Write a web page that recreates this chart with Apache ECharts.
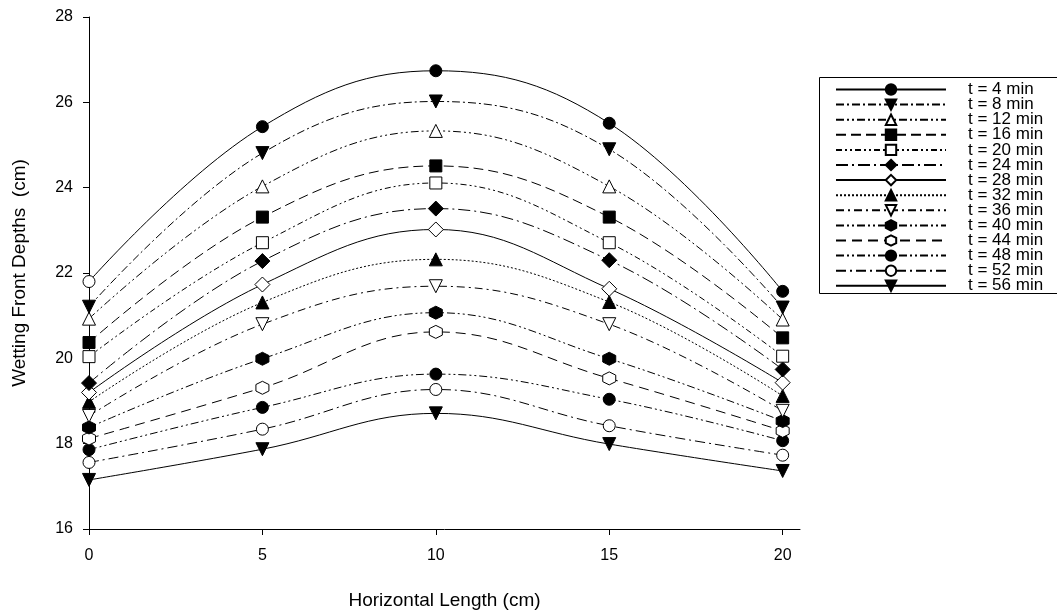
<!DOCTYPE html>
<html>
<head>
<meta charset="utf-8">
<script src="https://cdn.jsdelivr.net/npm/echarts@6/dist/echarts.min.js"></script>
<style>html,body{margin:0;padding:0;background:#fff}#c{width:1057px;height:615px}</style>
</head>
<body>
<div id="c"></div>
<script>
const xValues = [0, 5, 10, 15, 20];
const xTicks = [0, 5, 10, 15, 20];
const seriesNames = ['t = 4 min','t = 8 min','t = 12 min','t = 16 min','t = 20 min','t = 24 min','t = 28 min','t = 32 min','t = 36 min','t = 40 min','t = 44 min','t = 48 min','t = 52 min','t = 56 min'];
const t4  = [21.80, 25.43, 26.74, 25.51, 21.57];
const t8  = [21.21, 24.81, 26.02, 24.90, 21.19];
const t12 = [20.93, 24.03, 25.33, 24.03, 20.91];
const t16 = [20.37, 23.31, 24.51, 23.31, 20.48];
const t20 = [20.04, 22.71, 24.11, 22.71, 20.05];
const t24 = [19.42, 22.28, 23.51, 22.30, 19.74];
const t28 = [19.20, 21.73, 23.02, 21.63, 19.43];
const t32 = [18.98, 21.31, 22.32, 21.32, 19.12];
const t36 = [18.65, 20.80, 21.69, 20.80, 18.77];
const t40 = [18.38, 19.99, 21.07, 19.99, 18.53];
const t44 = [18.12, 19.31, 20.62, 19.53, 18.30];
const t48 = [17.86, 18.85, 19.63, 19.04, 18.07];
const t52 = [17.56, 18.34, 19.27, 18.42, 17.73];
const t56 = [17.15, 17.87, 18.71, 17.99, 17.36];
const allValues = [t4,t8,t12,t16,t20,t24,t28,t32,t36,t40,t44,t48,t52,t56];

const HEX = 'path://M0,-1 L0.866,-0.5 L0.866,0.5 L0,1 L-0.866,0.5 L-0.866,-0.5 Z';
// symbol, filled, rotate, line dash
const styles = [
  ['circle', true, 0, 'solid'],
  ['triangle', true, 180, [8,3,2,3]],
  ['triangle', false, 0, [8,3,2,3,2,3]],
  ['rect', true, 0, [10,5]],
  ['rect', false, 0, [6,3,2,3,2,3]],
  ['diamond', true, 0, [12,4,2,4]],
  ['diamond', false, 0, 'solid'],
  ['triangle', true, 0, [2,2]],
  ['triangle', false, 180, [8,4,2,4]],
  [HEX, true, 0, [8,3,2,3,2,3]],
  [HEX, false, 0, [10,6]],
  ['circle', true, 0, [8,3,2,3,2,3]],
  ['circle', false, 0, [10,4,2,4]],
  ['triangle', true, 180, 'solid']
];
const symSize = {circle:12, triangle:13, rect:12, diamond:15};

const series = allValues.map((vals, i) => {
  const [sym, filled, rot, dash] = styles[i];
  const size = symSize[sym] || 13;
  return {
    name: seriesNames[i],
    type: 'line',
    smooth: 0.4,
    symbol: sym,
    symbolSize: size,
    symbolRotate: rot,
    showAllSymbol: true,
    z: 2 + (14 - i),
    lineStyle: {color:'#000', width:1, type: dash},
    itemStyle: {color: filled ? '#000' : '#fff', borderColor:'#000', borderWidth:1},
    emphasis: {disabled:true},
    data: vals.map((v, k) => {
      const d = {value:[xValues[k], v]};
      if (i === 0 && k === 0) d.itemStyle = {color:'#fff'};
      return d;
    })
  };
});

const chart = echarts.init(document.getElementById('c'), null, {renderer:'canvas'});
chart.setOption({
  animation: false,
  backgroundColor: '#fff',
  textStyle: {fontFamily: 'Liberation Sans, Arial, sans-serif'},
  grid: {left: 89, right: 257, top: 17, bottom: 85, containLabel: false},
  xAxis: {
    type: 'value', min: 0, max: 20.5, interval: 5,
    name: 'Horizontal Length (cm)', nameLocation: 'middle', nameGap: 62,
    nameTextStyle: {fontSize: 19, color:'#000'},
    axisLine: {onZero:false, lineStyle:{color:'#000', width:1}},
    axisTick: {length: 6, lineStyle:{color:'#000'}, customValues: xTicks},
    axisLabel: {fontSize: 16, color:'#000', margin: 19, customValues: xTicks},
    splitLine: {show:false}
  },
  yAxis: {
    type: 'value', min: 16, max: 28, interval: 2,
    name: 'Wetting Front Depths  (cm)', nameLocation: 'middle', nameGap: 60,
    nameTextStyle: {fontSize: 19, color:'#000'},
    axisLine: {show:true, lineStyle:{color:'#000', width:1}},
    axisTick: {show:true, length: 6, lineStyle:{color:'#000'}},
    axisLabel: {fontSize: 16, color:'#000', margin: 16},
    splitLine: {show:false}
  },
  legend: {
    orient: 'vertical', left: 830, top: 76,
    itemWidth: 110, itemHeight: 13, itemGap: -1.9,
    textStyle: {fontSize: 17, color:'#000', lineHeight: 14, padding:[0,0,0,17]},
    data: seriesNames,
    selectedMode: false
  },
  graphic: [{
    type: 'rect', left: 817, top: 75,
    shape: {width: 260, height: 216},
    style: {fill: 'none', stroke: '#000', lineWidth: 1},
    z: 100
  }],
  series: series
});
</script>
</body>
</html>
